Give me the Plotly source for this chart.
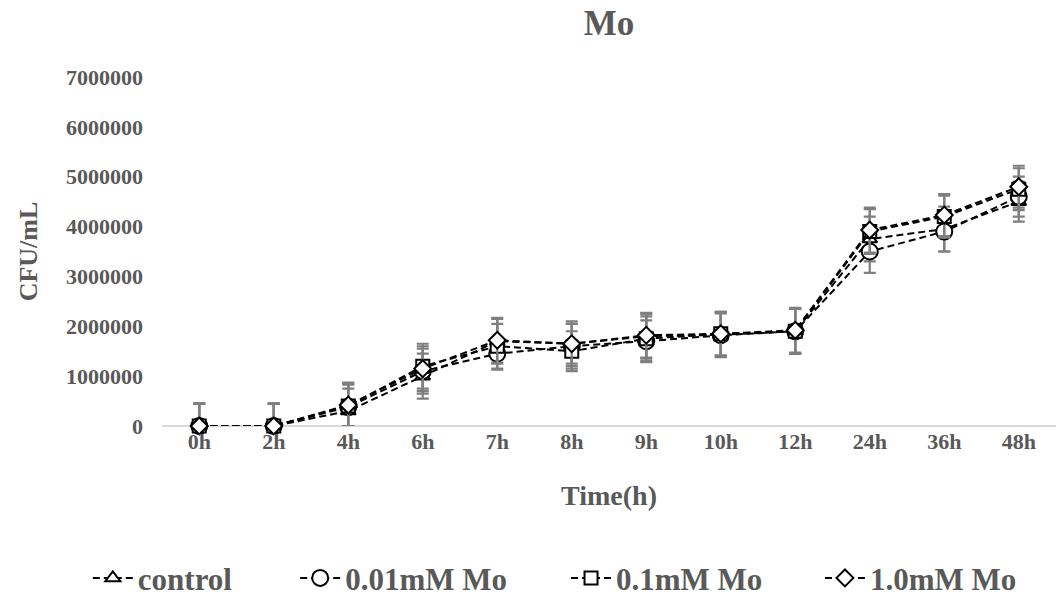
import plotly.graph_objects as go

times = ["0h", "2h", "4h", "6h", "7h", "8h", "9h", "10h", "12h", "24h", "36h", "48h"]

control = [0, 0, 300000, 1000000, 1700000, 1650000, 1800000, 1830000, 1900000, 3750000, 3950000, 4500000]
mo_001 = [0, 0, 380000, 1100000, 1450000, 1600000, 1700000, 1820000, 1900000, 3500000, 3900000, 4600000]
mo_01 = [0, 0, 400000, 1200000, 1600000, 1500000, 1750000, 1850000, 1900000, 3900000, 4200000, 4750000]
mo_10 = [0, 0, 420000, 1150000, 1720000, 1650000, 1820000, 1850000, 1920000, 3930000, 4230000, 4800000]

sd_control = [450000, 450000, 450000, 450000, 450000, 450000, 450000, 440000, 450000, 450000, 450000, 400000]
sd_001 = [450000, 450000, 450000, 450000, 320000, 450000, 420000, 440000, 450000, 430000, 400000, 400000]
sd_01 = [450000, 450000, 450000, 450000, 450000, 400000, 450000, 440000, 450000, 450000, 420000, 420000]
sd_10 = [450000, 450000, 450000, 450000, 450000, 400000, 450000, 440000, 450000, 450000, 420000, 420000]

series = [
    ("control", control, sd_control, "triangle-up", 13),
    ("0.01mM Mo", mo_001, sd_001, "circle", 16),
    ("0.1mM Mo", mo_01, sd_01, "square", 13),
    ("1.0mM Mo", mo_10, sd_10, "diamond", 13),
]
legend_ids = ["legend", "legend2", "legend3", "legend4"]
legend_x = [0.083, 0.279, 0.535, 0.775]

GRAY = "#595959"
FONT = "Liberation Serif"

fig = go.Figure()
for (name, vals, sd, sym, sz), lid in zip(series, legend_ids):
    minus = [min(s, v) for s, v in zip(sd, vals)]
    fig.add_trace(go.Scatter(
        x=times, y=vals, name="<b>" + name + "</b>", mode="lines+markers",
        legend=lid,
        line=dict(color="black", width=2, dash="7px,4px"),
        marker=dict(symbol=sym, size=sz, color="white",
                    line=dict(color="black", width=2)),
        error_y=dict(type="data", symmetric=False, array=sd, arrayminus=minus,
                     color="#7f7f7f", thickness=2.2, width=6),
        cliponaxis=False,
    ))

legend_style = dict(orientation="h", xref="container", xanchor="left",
                    y=0.033, yref="container", yanchor="middle",
                    font=dict(size=31, family=FONT, color=GRAY),
                    itemwidth=40, bgcolor="rgba(0,0,0,0)")
legends = {lid: dict(legend_style, x=lx) for lid, lx in zip(legend_ids, legend_x)}

fig.update_layout(
    width=1058, height=598,
    margin=dict(l=162, r=2, t=77, b=172),
    paper_bgcolor="white", plot_bgcolor="white",
    font=dict(family=FONT, color=GRAY),
    title=dict(text="<b>Mo</b>", x=0.5, xref="paper", y=0.962, yanchor="middle",
               xanchor="center", font=dict(size=35, family=FONT, color=GRAY)),
    showlegend=True,
    **legends,
)
fig.update_xaxes(
    type="category", range=[-0.5, 11.5],
    showgrid=False, zeroline=False,
    showline=False, ticks="",
    tickfont=dict(size=22, family=FONT, color=GRAY),
    title=dict(text="<b>Time(h)</b>", font=dict(size=28, family=FONT, color=GRAY), standoff=32),
    tickprefix="<b>", ticksuffix="</b>",
)
fig.update_yaxes(
    range=[0, 7000000], dtick=1000000, tickformat="d",
    showgrid=False, zeroline=True, zerolinecolor="#d9d9d9", zerolinewidth=2,
    showline=False, ticks="",
    tickfont=dict(size=22, family=FONT, color=GRAY),
    tickprefix="<b>", ticksuffix="</b>",
    ticklabelstandoff=18,
    title=dict(text="<b>CFU/mL</b>", font=dict(size=26, family=FONT, color=GRAY), standoff=20),
)

fig.write_html("out.html")
